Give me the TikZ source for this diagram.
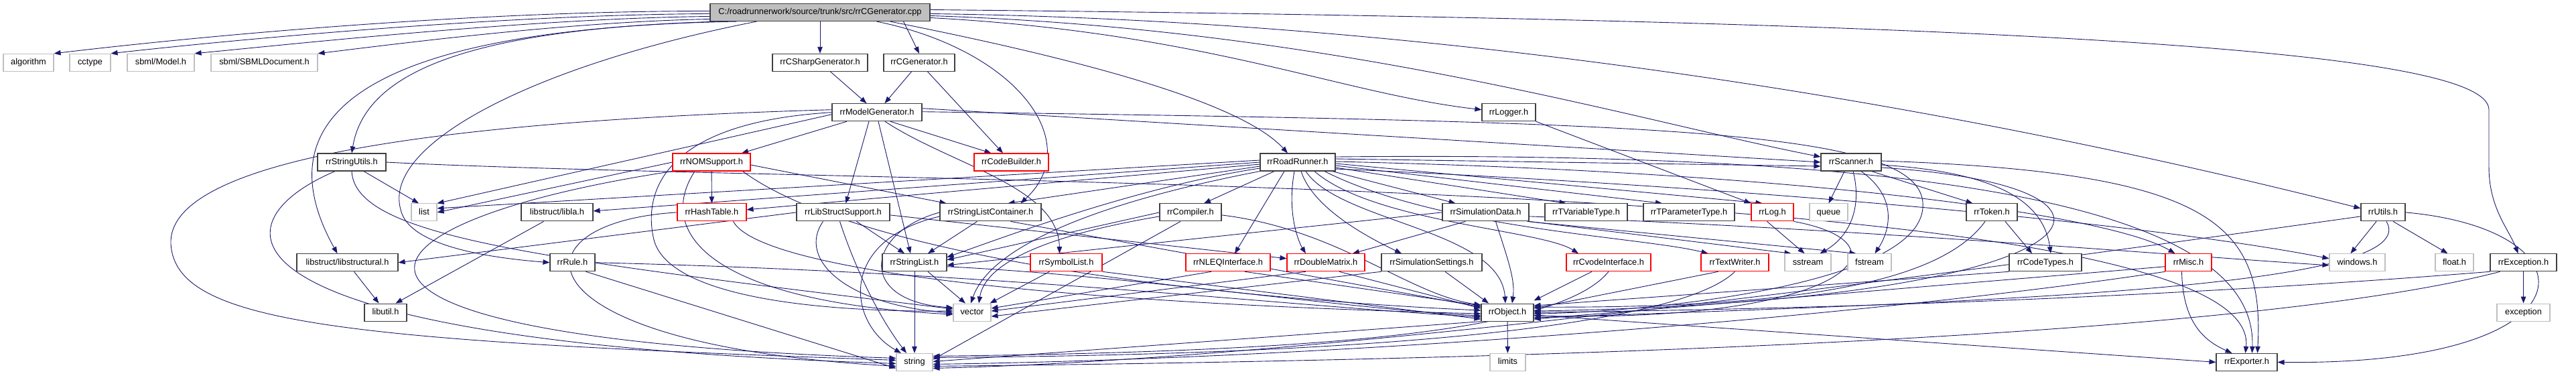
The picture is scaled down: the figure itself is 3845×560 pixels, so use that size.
\documentclass[tikz,border=0pt]{standalone}
\usepackage{fontspec}
\newfontfamily\dxfont{Liberation Sans}
\usetikzlibrary{arrows.meta}
\definecolor{gborder}{HTML}{BFBFBF}
\definecolor{rootfill}{HTML}{BFBFBF}
\definecolor{eblue}{HTML}{191970}
\definecolor{dkborder}{HTML}{404040}
\pgfdeclarelayer{bgl}
\pgfdeclarelayer{edges}
\pgfsetlayers{bgl,edges,main}
\tikzset{
 nb/.style={draw=dkborder, line width=1.1pt, fill=white, minimum height=26pt, inner sep=0pt, text height=9.5pt, text depth=2.5pt, font=\dxfont\fontsize{12.8pt}{15pt}\selectfont},
 xb/.style={nb, draw=gborder},
 rb/.style={nb, draw=red},
 dep/.style={draw=eblue, line width=0.9pt, -{Triangle[length=10pt,width=7.5pt]}},
}
\begin{document}
\begin{tikzpicture}[x=1pt,y=1pt]
\useasboundingbox (0,0) rectangle (3845,560);
\begin{pgfonlayer}{bgl}
\fill[white] (0,0) rectangle (3845,560);
\end{pgfonlayer}
\begin{scope}[y=1.0695pt, yshift=-39.24pt]
% nodes
\node[nb,fill=rootfill,minimum width=328pt] (r) at (1224,543) {C:/roadrunnerwork/source/trunk/src/rrCGenerator.cpp};
\node[xb,minimum width=75pt] (alg) at (42.5,473) {algorithm};
\node[xb,minimum width=61pt] (cct) at (134.5,473) {cctype};
\node[xb,minimum width=100pt] (smod) at (240,473) {sbml/Model.h};
\node[xb,minimum width=159pt] (sdoc) at (394.5,473) {sbml/SBMLDocument.h};
\node[nb,minimum width=142pt] (csg) at (1224,473) {rrCSharpGenerator.h};
\node[nb,minimum width=106pt] (cg) at (1372,473) {rrCGenerator.h};
\node[nb,minimum width=134pt] (mg) at (1309,403.5) {rrModelGenerator.h};
\node[nb,minimum width=80pt] (lg) at (2252,403.5) {rrLogger.h};
\node[nb,minimum width=102pt] (su) at (525,334) {rrStringUtils.h};
\node[rb,minimum width=116pt] (nom) at (1062,334) {rrNOMSupport.h};
\node[rb,minimum width=111pt] (cb) at (1509.5,334) {rrCodeBuilder.h};
\node[nb,minimum width=112pt] (rr) at (1937,334) {rrRoadRunner.h};
\node[nb,minimum width=90pt] (sc) at (2763,334) {rrScanner.h};
\node[xb,minimum width=38pt] (lst) at (633,264) {list};
\node[nb,minimum width=107pt] (lla) at (831.5,264) {libstruct/libla.h};
\node[rb,minimum width=103pt] (ht) at (1062.5,264) {rrHashTable.h};
\node[nb,minimum width=139pt] (lss) at (1258.5,264) {rrLibStructSupport.h};
\node[nb,minimum width=151pt] (slc) at (1478.5,264) {rrStringListContainer.h};
\node[nb,minimum width=92pt] (cmp) at (1777,264) {rrCompiler.h};
\node[nb,minimum width=129pt] (sd) at (2217.5,264) {rrSimulationData.h};
\node[nb,minimum width=123pt] (tvt) at (2367.5,264) {rrTVariableType.h};
\node[nb,minimum width=136pt] (tpt) at (2521,264) {rrTParameterType.h};
\node[rb,minimum width=63pt] (lgg) at (2645.5,264) {rrLog.h};
\node[xb,minimum width=57pt] (que) at (2729.5,264) {queue};
\node[nb,minimum width=76pt] (tok) at (2973,264) {rrToken.h};
\node[nb,minimum width=66pt] (ut) at (3557,264) {rrUtils.h};
\node[nb,minimum width=151pt] (lsl) at (518.5,194) {libstruct/libstructural.h};
\node[nb,minimum width=67pt] (rul) at (854.5,194) {rrRule.h};
\node[nb,minimum width=96pt] (sl) at (1365,194) {rrStringList.h};
\node[rb,minimum width=107pt] (syl) at (1591.5,194) {rrSymbolList.h};
\node[rb,minimum width=126pt] (nl) at (1833,194) {rrNLEQInterface.h};
\node[rb,minimum width=116pt] (dm) at (1979,194) {rrDoubleMatrix.h};
\node[nb,minimum width=150pt] (ss) at (2137,194) {rrSimulationSettings.h};
\node[rb,minimum width=126pt] (cv) at (2401,194) {rrCvodeInterface.h};
\node[rb,minimum width=101pt] (tw) at (2589.5,194) {rrTextWriter.h};
\node[xb,minimum width=69pt] (sst) at (2698.5,194) {sstream};
\node[xb,minimum width=65pt] (fst) at (2790.5,194) {fstream};
\node[nb,minimum width=108pt] (ct) at (3053,194) {rrCodeTypes.h};
\node[rb,minimum width=69pt] (msc) at (3266.5,194) {rrMisc.h};
\node[xb,minimum width=83pt] (win) at (3518.5,194) {windows.h};
\node[xb,minimum width=57pt] (flt) at (3663.5,194) {float.h};
\node[nb,minimum width=99pt] (exc) at (3766.5,194) {rrException.h};
\node[nb,minimum width=63pt] (lu) at (575.5,124.5) {libutil.h};
\node[xb,minimum width=56pt] (vec) at (1451,124.5) {vector};
\node[nb,minimum width=78pt] (obj) at (2250,124.5) {rrObject.h};
\node[xb,minimum width=79pt] (excs) at (3766.5,124.5) {exception};
\node[xb,minimum width=54pt] (str) at (1365,55) {string};
\node[xb,minimum width=53pt] (lim) at (2250.5,55) {limits};
\node[nb,minimum width=91pt] (exp) at (3353.5,55) {rrExporter.h};
% edges
\begin{pgfonlayer}{edges}
% root
\draw[dep] ([yshift=2pt]r.west) .. controls (700,545) and (300,510) .. (alg.north east);
\draw[dep] ([yshift=-2pt]r.west) .. controls (750,540) and (350,505) .. (cct.north east);
\draw[dep] ([yshift=-6pt]r.west) .. controls (800,535) and (450,500) .. (smod.north east);
\draw[dep] ([yshift=-10pt]r.west) .. controls (850,530) and (600,500) .. (sdoc.north east);
\draw[dep] ([xshift=15pt]r.south west) .. controls (700,520) and (545,460) .. (su.north);
\draw[dep] ([xshift=40pt]r.south west) .. controls (500,520) and (400,380) .. ([xshift=-15pt]lsl.north);
\draw[dep] ([xshift=70pt]r.south west) .. controls (800,470) and (570,360) .. (598,268) .. controls (610,215) and (740,200) .. (rul.west);
\draw[dep] (r) -- (csg);
\draw[dep] ([xshift=-40pt]r.south east) -- (cg.north);
\draw[dep] ([xshift=-80pt]r.south east) .. controls (1520,490) and (1620,360) .. ([xshift=45pt]slc.north);
\draw[dep] ([xshift=-60pt]r.south east) .. controls (1600,480) and (1850,420) .. ([xshift=-15pt]rr.north);
\draw[dep] ([yshift=-8pt]r.east) .. controls (1800,515) and (2000,430) .. ([yshift=4pt]lg.west);
\draw[dep] ([yshift=-5pt]r.east) .. controls (2000,520) and (2450,390) .. ([yshift=8pt]sc.west);
\draw[dep] ([yshift=-2pt]r.east) .. controls (2300,530) and (3100,370) .. ([yshift=6pt]ut.west);
\draw[dep] ([yshift=4pt]r.east) .. controls (3200,530) and (3715,480) .. (3715,407) -- (3715,327) .. controls (3715,270) and (3745,240) .. ([xshift=-8pt]exc.north);
% generators
\draw[dep] (csg) -- (mg);
\draw[dep] (cg) -- (mg);
\draw[dep] (cg) -- (cb);
% model generator
\draw[dep] (mg) -- (nom);
\draw[dep] ([xshift=20pt]mg.south) -- ([xshift=-30pt]cb.north);
\draw[dep] ([xshift=2pt]mg.south) -- ([xshift=-6pt]sl.north);
\draw[dep] ([xshift=-12pt]mg.south) -- ([xshift=4pt]lss.north);
\draw[dep] ([xshift=12pt]mg.south) .. controls (1420,330) and (1580,300) .. ([xshift=-10pt]syl.north);
\draw[dep] ([yshift=-3pt]mg.west) -- (lst.north east);
\draw[dep] ([yshift=4pt]mg.west) .. controls (600,390) and (250,330) .. (255,220) .. controls (262,110) and (500,85) .. ([yshift=3pt]str.west);
\draw[dep] (mg.west) .. controls (1000,390) and (960,300) .. (975,230) .. controls (990,150) and (1200,125) .. ([yshift=2pt]vec.west);
\draw[dep] ([yshift=6pt]mg.east) -- (sc.west);
\draw[dep] ([yshift=1pt]mg.east) .. controls (2500,390) and (2880,380) .. (2870,270) .. controls (2860,160) and (2450,125) .. ([yshift=-2pt]obj.east);
% logger
\draw[dep] (lg.south east) -- (lgg.north west);
% string utils
\draw[dep] ([xshift=18pt]su.south) -- ([xshift=-8pt]lst.north);
\draw[dep] ([xshift=-25pt]su.south) .. controls (320,250) and (290,85) .. ([yshift=-2pt]str.west);
\draw[dep] (su.south) .. controls (530,230) and (800,200) .. ([yshift=5pt]vec.west);
\draw[dep] (su.east) .. controls (1300,300) and (3380,320) .. ([xshift=-2pt]exp.north);
% NOM support
\draw[dep] (nom) -- (ht);
\draw[dep] (nom.west) -- (lst.east);
\draw[dep] (nom.south west) .. controls (500,250) and (380,90) .. ([yshift=6pt]str.west);
\draw[dep] ([xshift=-25pt]nom.south) .. controls (980,240) and (1050,140) .. ([yshift=-3pt]vec.west);
\draw[dep] ([yshift=-4pt]nom.east) -- ([xshift=10pt]slc.north west);
\draw[dep] ([xshift=-12pt]nom.south east) .. controls (1300,190) and (1900,140) .. ([yshift=3pt]obj.west);
% hash table
\draw[dep] ([xshift=-20pt]ht.south east) .. controls (1130,190) and (1500,140) .. ([yshift=-2pt]obj.west);
\draw[dep] (ht.west) .. controls (760,250) and (760,80) .. ([yshift=-6pt]str.west);
% libstruct
\draw[dep] ([xshift=-20pt]lla.south) -- ([xshift=15pt]lu.north);
\draw[dep] ([xshift=10pt]lsl.south) -- ([xshift=-10pt]lu.north);
% lib struct support
\draw[dep] (lss.west) -- (lsl.east);
\draw[dep] ([xshift=20pt]lss.south) -- ([xshift=-15pt]sl.north);
\draw[dep] ([xshift=-30pt]lss.south) .. controls (1190,200) and (1260,135) .. ([yshift=-1pt]vec.west);
\draw[dep] ([xshift=-5pt]lss.south) .. controls (1275,190) and (1310,120) .. ([xshift=-12pt]str.north);
\draw[dep] ([yshift=-4pt]lss.east) -- ([yshift=6pt]dm.west);
% string list container
\draw[dep] ([xshift=-20pt]slc.south) -- ([xshift=20pt]sl.north);
\draw[dep] (slc.west) .. controls (1290,235) and (1280,140) .. ([yshift=7pt]vec.west);
\draw[dep] ([yshift=-6pt]slc.west) .. controls (1250,225) and (1265,110) .. ([xshift=-20pt]str.north);
\draw[dep] ([xshift=30pt]slc.south) -- ([yshift=8pt]obj.west);
% compiler
\draw[dep] (cmp.west) -- ([yshift=4pt]sl.east);
\draw[dep] ([yshift=-6pt]cmp.west) .. controls (1550,230) and (1470,190) .. ([xshift=10pt]vec.north);
\draw[dep] ([xshift=-15pt]cmp.south) -- ([yshift=4pt]str.east);
\draw[dep] ([yshift=-4pt]cmp.east) .. controls (2000,240) and (2100,150) .. ([yshift=11pt]obj.west);
% roadrunner
\draw[dep] ([yshift=3pt]rr.west) -- ([yshift=6pt]lst.east);
\draw[dep] (rr.west) -- ([yshift=2pt]lla.east);
\draw[dep] ([yshift=-3pt]rr.west) -- ([yshift=4pt]ht.east);
\draw[dep] ([yshift=-6pt]rr.west) -- ([xshift=-50pt]slc.north east);
\draw[dep] ([yshift=-9pt]rr.west) .. controls (1700,300) and (1500,230) .. ([yshift=8pt]sl.east);
\draw[dep] (rr.south west) .. controls (1650,280) and (1480,220) .. ([xshift=-2pt]vec.north);
\draw[dep] ([xshift=-35pt]rr.south) -- ([xshift=20pt]cmp.north);
\draw[dep] ([xshift=-20pt]rr.south) -- ([xshift=10pt]nl.north);
\draw[dep] ([xshift=-5pt]rr.south) .. controls (1920,260) and (1940,220) .. ([xshift=-30pt]dm.north);
\draw[dep] ([xshift=5pt]rr.south) .. controls (1960,270) and (2040,230) .. ([xshift=-45pt]ss.north);
\draw[dep] ([xshift=12pt]rr.south) .. controls (2000,250) and (2240,240) .. ([xshift=-3pt]obj.north);
\draw[dep] ([xshift=25pt]rr.south) .. controls (2050,250) and (2300,240) .. ([xshift=-45pt]cv.north);
\draw[dep] ([xshift=40pt]rr.south) .. controls (2150,240) and (2450,230) .. ([xshift=-40pt]tw.north);
\draw[dep] ([xshift=-5pt]rr.south east) -- ([xshift=-45pt]sd.north);
\draw[dep] ([yshift=-8pt]rr.east) -- ([xshift=-30pt]tvt.north);
\draw[dep] ([yshift=-5pt]rr.east) -- ([xshift=-40pt]tpt.north);
\draw[dep] ([yshift=-2pt]rr.east) -- ([xshift=-15pt]lgg.north);
\draw[dep] ([yshift=5pt]rr.east) -- ([yshift=-6pt]sc.west);
\draw[dep] ([yshift=1pt]rr.east) .. controls (2700,320) and (3150,260) .. ([xshift=-20pt]msc.north);
\draw[dep] ([yshift=8pt]rr.east) .. controls (2900,350) and (3370,270) .. ([xshift=8pt]exp.north);
\draw[dep] ([yshift=-10pt]rr.east) .. controls (2600,300) and (3200,250) .. ([yshift=6pt]win.west);
% simulation data
\draw[dep] ([xshift=-30pt]sd.south) -- ([xshift=40pt]dm.north);
\draw[dep] (sd.west) -- ([yshift=-4pt]sl.east);
\draw[dep] ([xshift=15pt]sd.south) .. controls (2250,200) and (2262,170) .. ([xshift=7pt]obj.north);
\draw[dep] (sd.south east) -- ([xshift=-25pt]sst.north);
\draw[dep] ([xshift=-3pt]sd.south east) -- ([xshift=-20pt]fst.north);
\draw[dep] ([yshift=-6pt]sd.east) .. controls (2800,240) and (3300,200) .. ([yshift=-4pt]win.west);
% row 5 to row 6/7
\draw[dep] ([xshift=20pt]ss.south) -- ([xshift=-28pt]obj.north);
\draw[dep] (ss.south west) -- ([yshift=-6pt]vec.east);
\draw[dep] ([xshift=20pt]dm.south) -- ([yshift=6pt]obj.west);
\draw[dep] ([xshift=-30pt]dm.south) -- ([yshift=2pt]vec.east);
\draw[dep] ([xshift=-25pt]nl.south) -- ([yshift=6pt]vec.east);
\draw[dep] ([xshift=25pt]nl.south) -- ([yshift=10pt]obj.west);
\draw[dep] ([xshift=-25pt]syl.south) -- ([xshift=-2pt]vec.north east);
\draw[dep] (syl.south east) -- ([yshift=-10pt]obj.west);
\draw[dep] ([xshift=20pt]sl.south) -- ([xshift=-10pt]vec.north);
\draw[dep] (sl.south) -- (str.north);
\draw[dep] ([yshift=-6pt]sl.east) .. controls (1700,175) and (2000,130) .. ([yshift=-5pt]obj.west);
\draw[dep] (rul.east) .. controls (1500,180) and (1900,135) .. ([yshift=-7pt]obj.west);
\draw[dep] ([xshift=20pt]rul.south) -- ([yshift=-9pt]str.west);
\draw[dep] ([xshift=-25pt]cv.south) -- ([yshift=4pt]obj.north east);
\draw[dep] (cv.south) .. controls (2330,100) and (2000,70) .. ([yshift=9pt]str.east);
\draw[dep] ([xshift=-25pt]tw.south) -- ([yshift=6pt]obj.east);
\draw[dep] (tw.south) .. controls (2500,100) and (2000,65) .. ([yshift=7pt]str.east);
% log
\draw[dep] ([xshift=-8pt]lgg.south) -- ([xshift=-5pt]sst.north);
\draw[dep] (lgg.south east) .. controls (2860,220) and (2760,110) .. ([yshift=-5pt]obj.east);
% scanner
\draw[dep] ([xshift=-10pt]sc.south) -- (que.north);
\draw[dep] ([xshift=3pt]sc.south) .. controls (2780,270) and (2760,230) .. ([xshift=18pt]sst.north);
\draw[dep] ([xshift=15pt]sc.south) .. controls (2840,280) and (2815,230) .. ([xshift=8pt]fst.north);
\draw[dep] ([xshift=-15pt]sc.south east) -- ([xshift=10pt]tok.north west);
\draw[dep] ([yshift=-4pt]sc.east) .. controls (2980,320) and (3050,280) .. ([xshift=8pt]ct.north);
\draw[dep] ([yshift=-8pt]sc.east) .. controls (3250,300) and (3150,140) .. ([yshift=2pt]obj.east);
\draw[dep] ([yshift=2pt]sc.east) .. controls (3300,320) and (3380,250) .. ([xshift=16pt]exp.north);
% token, code types
\draw[dep] ([xshift=20pt]tok.south) -- ([xshift=-20pt]ct.north);
\draw[dep] ([xshift=-10pt]tok.south) .. controls (2900,170) and (2700,130) .. ([yshift=8pt]obj.east);
\draw[dep] (ct.south west) -- ([yshift=10pt]obj.east);
% utils
\draw[dep] ([xshift=-10pt]ut.south) -- ([xshift=-10pt]win.north);
\draw[dep] ([xshift=15pt]ut.south) -- ([xshift=-10pt]flt.north);
\draw[dep] ([xshift=5pt]ut.south) .. controls (3620,160) and (3000,140) .. ([yshift=-8pt]obj.east);
\draw[dep] (ut.east) .. controls (3880,240) and (3880,50) .. (exp.east);
\draw[dep] ([yshift=-6pt]ut.west) .. controls (3000,190) and (2000,60) .. ([yshift=-9pt]str.east);
% misc
\draw[dep] ([xshift=-10pt]msc.south) .. controls (3258,110) and (3290,85) .. ([xshift=-22pt]exp.north);
\draw[dep] (msc.south west) .. controls (2800,120) and (2000,60) .. ([yshift=-3pt]str.east);
\draw[dep] ([yshift=-6pt]msc.west) -- ([yshift=-10pt]obj.east);
% exception
\draw[dep] (exc) -- (excs);
\draw[dep] (exc.south west) .. controls (3300,150) and (2800,130) .. (obj.east);
\draw[dep] ([xshift=15pt]exc.south west) .. controls (3400,100) and (2500,60) .. ([yshift=-6pt]str.east);
% object
\draw[dep] (obj) -- (lim);
\draw[dep] (obj.south west) -- ([yshift=1pt]str.east);
\draw[dep] ([yshift=-4pt]obj.east) -- (exp.west);
\end{pgfonlayer}
\end{scope}
\end{tikzpicture}
\end{document}
